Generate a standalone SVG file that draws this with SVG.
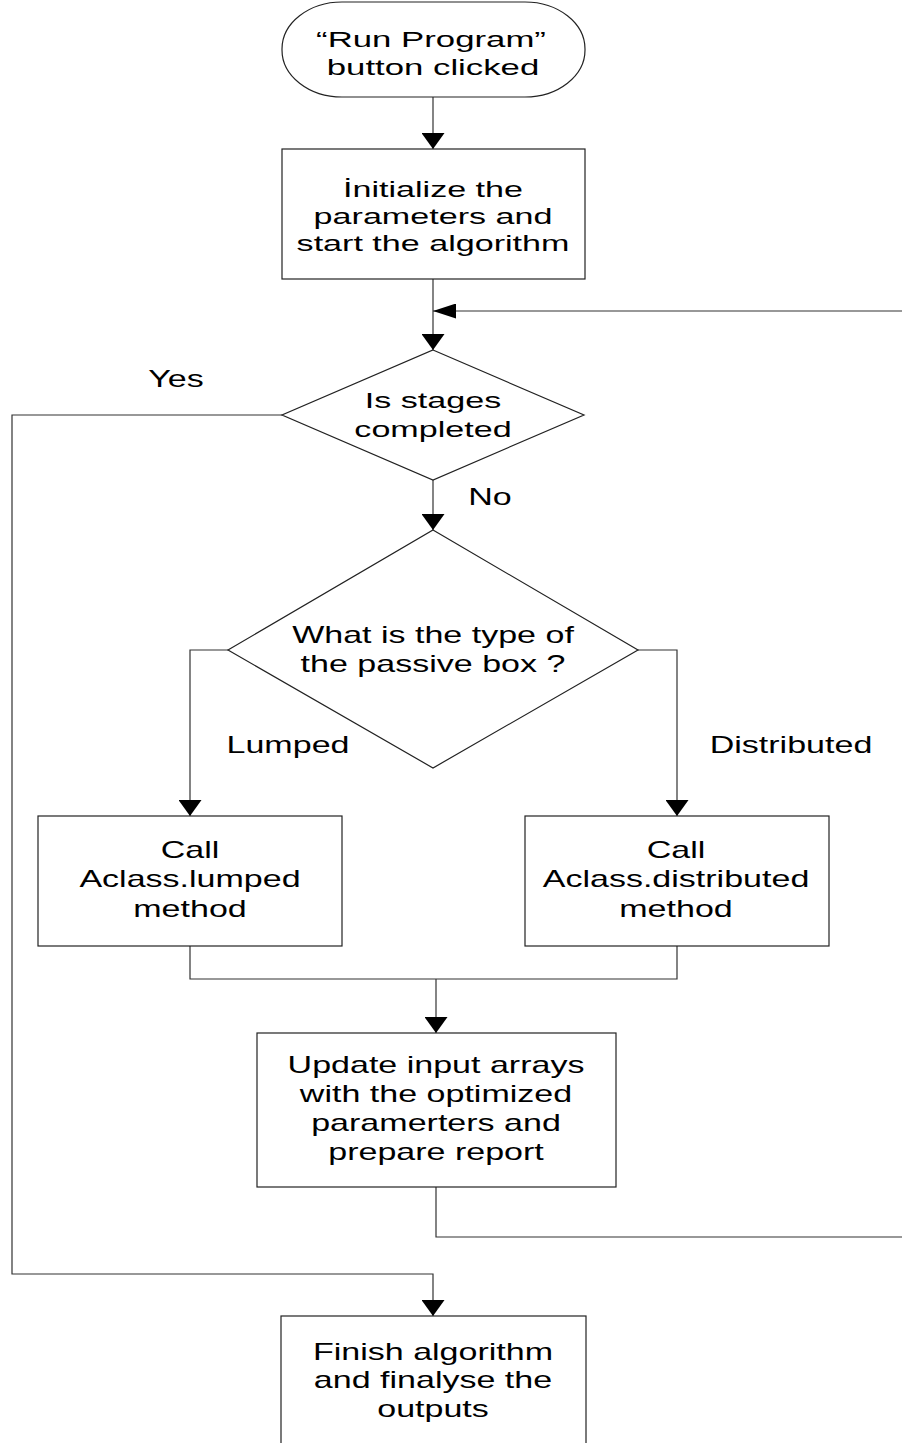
<svg xmlns="http://www.w3.org/2000/svg" width="902" height="1443" viewBox="0 0 902 1443">
<style>
.shape{fill:#fff;stroke:#222;stroke-width:1.2}
.conn{fill:none;stroke:#333;stroke-width:1.2}
.t{font-family:"Liberation Sans",Arial,sans-serif;font-size:22px;fill:#000;text-anchor:middle}
.b{font-size:23px}
</style>
<defs>
<marker id="ad" viewBox="0 0 16 23" markerWidth="16" markerHeight="23" refX="16" refY="11.5" orient="auto" markerUnits="userSpaceOnUse"><path d="M0,0 L16,11.5 L0,23 z" fill="#000"/></marker>
<marker id="al" viewBox="0 0 23 15" markerWidth="23" markerHeight="15" refX="23" refY="7.5" orient="auto" markerUnits="userSpaceOnUse"><path d="M0,0 L23,7.5 L0,15 z" fill="#000"/></marker>
</defs>
<g id="connectors">
<path class="conn" d="M433,97 V149" marker-end="url(#ad)"/>
<path class="conn" d="M433,279 V350" marker-end="url(#ad)"/>
<path class="conn" d="M436,1187 V1237 H912 V311 H433" marker-end="url(#al)"/>
<path class="conn" d="M433,480 V530" marker-end="url(#ad)"/>
<path class="conn" d="M282,415 H12 V1274 H433 V1316" marker-end="url(#ad)"/>
<path class="conn" d="M228,650 H190 V816" marker-end="url(#ad)"/>
<path class="conn" d="M638,650 H677 V816" marker-end="url(#ad)"/>
<path class="conn" d="M190,946 V979 H677 V946"/>
<path class="conn" d="M436,979 V1033" marker-end="url(#ad)"/>
<g id="labels">
<text class="t b" transform="matrix(1.48 0 0 1 176 387)">Yes</text>
<text class="t b" transform="matrix(1.48 0 0 1 490 505)">No</text>
<text class="t b" transform="matrix(1.48 0 0 1 288 753)">Lumped</text>
<text class="t b" transform="matrix(1.48 0 0 1 791 753)">Distributed</text>
</g>
</g>
<g id="start">
<rect class="shape" x="282" y="2" width="303" height="95" rx="60" ry="47"/>
<text class="t" transform="matrix(1.58 0 0 1 431 47)">“Run Program”</text>
<text class="t" transform="matrix(1.58 0 0 1 433 75)">button clicked</text>
</g>
<g id="init">
<rect class="shape" x="282" y="149" width="303" height="130"/>
<text class="t" transform="matrix(1.55 0 0 1 433 197)">İnitialize the</text>
<text class="t" transform="matrix(1.55 0 0 1 433 224)">parameters and</text>
<text class="t" transform="matrix(1.55 0 0 1 433 251)">start the algorithm</text>
</g>
<g id="stages">
<polygon class="shape" points="433,350 584,415 433,480 282,415"/>
<text class="t" transform="matrix(1.55 0 0 1 433 408)">Is stages</text>
<text class="t" transform="matrix(1.55 0 0 1 433 437)">completed</text>
</g>
<g id="type">
<polygon class="shape" points="433,530 638,650 433,768 228,650"/>
<text class="t b" transform="matrix(1.48 0 0 1 433 643)">What is the type of</text>
<text class="t b" transform="matrix(1.48 0 0 1 433 672)">the passive box ?</text>
</g>
<g id="lumped">
<rect class="shape" x="38" y="816" width="304" height="130"/>
<text class="t b" transform="matrix(1.48 0 0 1 190 858)">Call</text>
<text class="t b" transform="matrix(1.48 0 0 1 190 887)">Aclass.lumped</text>
<text class="t b" transform="matrix(1.48 0 0 1 190 917)">method</text>
</g>
<g id="distributed">
<rect class="shape" x="525" y="816" width="304" height="130"/>
<text class="t b" transform="matrix(1.48 0 0 1 676 858)">Call</text>
<text class="t b" transform="matrix(1.48 0 0 1 676 887)">Aclass.distributed</text>
<text class="t b" transform="matrix(1.48 0 0 1 676 917)">method</text>
</g>
<g id="update">
<rect class="shape" x="257" y="1033" width="359" height="154"/>
<text class="t b" transform="matrix(1.48 0 0 1 436 1073)">Update input arrays</text>
<text class="t b" transform="matrix(1.48 0 0 1 436 1102)">with the optimized</text>
<text class="t b" transform="matrix(1.48 0 0 1 436 1131)">paramerters and</text>
<text class="t b" transform="matrix(1.48 0 0 1 436 1160)">prepare report</text>
</g>
<g id="finish">
<rect class="shape" x="281" y="1316" width="305" height="140"/>
<text class="t b" transform="matrix(1.48 0 0 1 433 1360)">Finish algorithm</text>
<text class="t b" transform="matrix(1.48 0 0 1 433 1388)">and finalyse the</text>
<text class="t b" transform="matrix(1.48 0 0 1 433 1417)">outputs</text>
</g>
</svg>
